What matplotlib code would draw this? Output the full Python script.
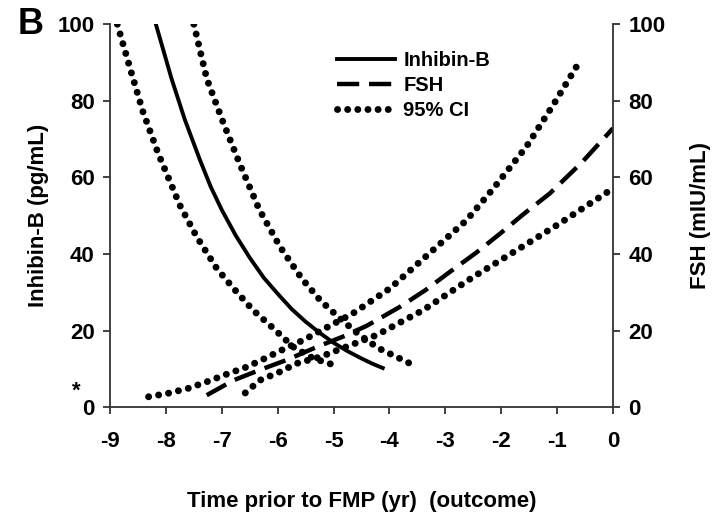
"""
Panel B: Inhibin-B and FSH trajectories before the final menstrual period
"""

import matplotlib
matplotlib.use("Agg")
import matplotlib.pyplot as plt

plt.rcParams.update({
    "font.family": ["Liberation Sans", "DejaVu Sans"],
    "font.weight": "bold",
    "axes.labelweight": "bold",
    "axes.unicode_minus": False,
    "font.size": 16,
})

# Inhibin-B (pg/mL), left axis
inhb_x = [-8.18, -7.90, -7.66, -7.39, -7.20, -7.00, -6.75, -6.50, -6.25, -6.00, -5.75,
          -5.50, -5.25, -5.00, -4.75, -4.50, -4.30, -4.12]
inhb_y = [100.0, 85.8, 75.0, 64.5, 57.6, 51.5, 44.8, 39.0, 33.8, 29.6, 25.6,
          22.3, 19.4, 16.8, 14.6, 12.7, 11.3, 10.2]

inhb_lo_x = [-8.87, -8.64, -8.41, -8.14, -7.75, -7.45, -7.09, -6.79, -6.44, -6.11, -5.72, -5.36, -4.89]
inhb_lo_y = [100.0, 88.4, 77.1, 66.3, 52.7, 44.5, 36.2, 31.0, 25.3, 21.0, 15.7, 12.7, 10.5]

inhb_hi_x = [-7.50, -7.27, -6.98, -6.67, -6.33, -5.96, -5.57, -5.24, -4.89, -4.55, -4.20, -3.76, -3.51]
inhb_hi_y = [100.0, 85.8, 74.5, 63.2, 51.6, 41.9, 33.6, 27.9, 23.2, 19.0, 15.4, 12.3, 10.5]

# FSH (mIU/mL), right axis
fsh_x = [-7.27, -6.79, -6.32, -5.84, -5.30, -4.85, -4.41, -3.81, -3.35, -2.92, -2.45,
         -2.02, -1.60, -1.13, -0.55, 0.0]
fsh_y = [3.1, 7.0, 9.7, 12.3, 15.7, 18.3, 21.2, 26.2, 30.6, 35.3, 40.3,
         45.3, 50.4, 55.8, 64.0, 72.8]

fsh_hi_x = [-8.31, -7.96, -7.60, -7.27, -6.91, -6.55, -6.23, -5.87, -5.54, -4.65, -3.99,
            -3.22, -2.62, -2.14, -1.55, -1.07, -0.62]
fsh_hi_y = [2.7, 3.6, 4.9, 6.6, 8.6, 10.5, 12.7, 15.3, 17.5, 24.5, 31.0,
            41.0, 48.8, 57.1, 68.0, 78.9, 89.7]

fsh_lo_x = [-6.58, -6.32, -5.99, -5.66, -5.24, -4.23, -3.40, -2.50, -1.72, -0.95, 0.0]
fsh_lo_y = [3.7, 7.0, 9.0, 11.4, 13.1, 18.8, 25.3, 34.0, 41.0, 48.0, 57.1]

x_ticks = [-9, -8, -7, -6, -5, -4, -3, -2, -1, 0]
y_ticks = [0, 20, 40, 60, 80, 100]

DOTS = dict(color="black", linewidth=5.0, linestyle=(0, (0.01, 1.45)),
            dash_capstyle="round")
DASH = dict(color="black", linewidth=3.2, linestyle=(0, (5.0, 2.2)))
SOLID = dict(color="black", linewidth=2.8)


def main():
    fig = plt.figure(figsize=(7.21, 5.14), dpi=100)
    ax = fig.add_axes([0.1526, 0.208, 0.6976, 0.745])
    ax2 = ax.twinx()

    ax.plot(inhb_x, inhb_y, label="Inhibin-B", **SOLID)
    ax.plot(inhb_lo_x, inhb_lo_y, **DOTS)
    ax.plot(inhb_hi_x, inhb_hi_y, **DOTS)

    ax2.plot(fsh_x, fsh_y, label="FSH", **DASH)
    ax2.plot(fsh_hi_x, fsh_hi_y, label="95% CI", **DOTS)
    ax2.plot(fsh_lo_x, fsh_lo_y, **DOTS)

    for a in (ax, ax2):
        a.set_xlim(-9, 0)
        a.set_ylim(0, 100)
        a.set_yticks(y_ticks)
        a.spines["top"].set_visible(False)
        for s in a.spines.values():
            s.set_linewidth(1.3)
            s.set_color("#333333")
        a.tick_params(length=5, width=1.3, color="#333333", pad=6)
    ax.spines["right"].set_visible(False)
    ax2.spines["left"].set_visible(False)
    ax2.spines["bottom"].set_visible(False)

    ax.set_xticks(x_ticks)
    ax.tick_params(axis="x", pad=12)
    ax.set_ylabel("Inhibin-B (pg/mL)", labelpad=6)
    ax2.set_ylabel("FSH (mIU/mL)", labelpad=18)
    ax.set_xlabel("Time prior to FMP (yr)  (outcome)", labelpad=28)

    h1, l1 = ax.get_legend_handles_labels()
    h2, l2 = ax2.get_legend_handles_labels()
    ax2.legend(h1 + h2, l1 + l2, loc="upper left", bbox_to_anchor=(0.415, 0.977),
               frameon=False, handlelength=2.9, handletextpad=0.4,
               labelspacing=0.3, prop={"weight": "bold", "size": 14.5})

    fig.text(0.024, 0.952, "B", fontsize=26, fontweight="bold", va="center")
    fig.text(0.106, 0.228, "*", fontsize=16, fontweight="bold", ha="center")

    fig.savefig("out.png", dpi=100)
    plt.close(fig)


if __name__ == "__main__":
    main()
